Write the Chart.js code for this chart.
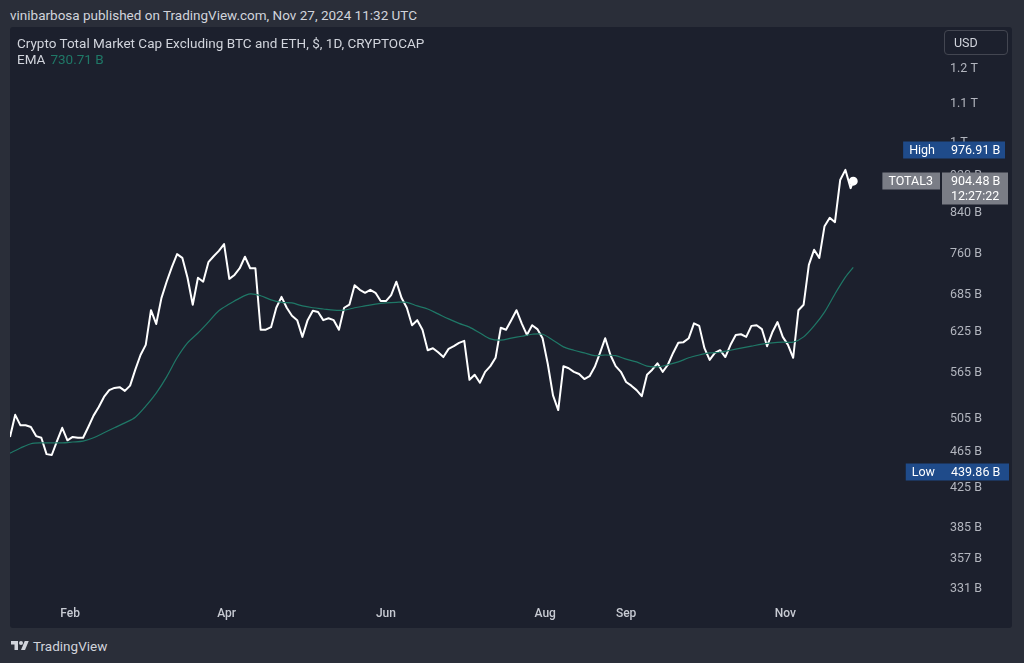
<!DOCTYPE html>
<html>
<head>
<meta charset="utf-8">
<script src="https://cdn.jsdelivr.net/npm/chart.js@4.4.1/dist/chart.umd.min.js"></script>
<style>
  html, body { margin: 0; padding: 0; }
  body {
    width: 1024px; height: 663px; overflow: hidden; position: relative;
    background: #2a2e39; color: #d1d4dc;
    font-family: Roboto, "Noto Sans", sans-serif;
  }
  #byline { position: absolute; left: 10px; top: 7px; font-size: 13.5px; line-height: 16px; }
  #panel {
    position: absolute; left: 10px; top: 27px; width: 1002px; height: 601px;
    background: #1c202d; border-radius: 3px;
  }
  #chart { position: absolute; left: 0; top: 0; }
  #legend { position: absolute; left: 7px; top: 8px; font-size: 13.5px; line-height: 16px; }
  #ema-val { color: #1f7867; margin-left: 5px; }
  #usd {
    position: absolute; left: 934px; top: 3px; width: 64px; height: 25px; box-sizing: border-box;
    border: 1px solid #434651; border-radius: 4px; font-size: 12.5px; line-height: 23px; padding-left: 9px;
  }
  #footer { position: absolute; left: 11px; top: 638px; font-size: 13.5px; line-height: 16px; display: flex; align-items: center; gap: 4px; }
</style>
</head>
<body>
<div id="byline">vinibarbosa published on TradingView.com, Nov 27, 2024 11:32 UTC</div>
<div id="panel">
  <canvas id="chart" width="1002" height="601"></canvas>
  <div id="legend">
    <div>Crypto Total Market Cap Excluding BTC and ETH, $, 1D, CRYPTOCAP</div>
    <div>EMA<span id="ema-val">730.71 B</span></div>
  </div>
  <div id="usd">USD</div>
</div>
<div id="footer">
  <svg width="18" height="14" viewBox="0 0 36 28"><path d="M14 22H7V11H0V4h14v18z" fill="#d1d4dc"/><circle cx="20" cy="8" r="4" fill="#d1d4dc"/><path d="M28 22h-8l7.5-18h8L28 22z" fill="#d1d4dc"/></svg>
  <span>TradingView</span>
</div>
<script>
// day index = days since Jan 1 2024; price every 2 days, EMA every 4 days (values in B)
const firstDay = 8;
const lastDay = 331;

const priceValues = [
  480, 507, 494, 494, 492, 481, 479, 460, 459, 475, 491, 476, 480, 479, 479, 492,
  506, 517, 530, 539, 542, 543, 538, 545, 567, 588, 603, 657, 635, 677, 705, 731,
  755, 748, 712, 666, 712, 705, 740, 751, 761, 774, 710, 717, 729, 750, 729, 729,
  626, 626, 630, 661, 679, 661, 648, 641, 615, 641, 656, 654, 641, 644, 641, 626,
  661, 666, 699, 691, 686, 691, 686, 672, 672, 682, 705, 677, 661, 633, 641, 626,
  595, 598, 592, 585, 597, 601, 606, 609, 553, 560, 549, 564, 572, 584, 629, 626,
  641, 657, 636, 618, 633, 627, 613, 575, 532, 513, 572, 569, 564, 561, 554, 558,
  571, 591, 613, 588, 572, 564, 550, 545, 539, 531, 560, 567, 576, 564, 574, 591,
  606, 607, 613, 636, 632, 598, 581, 591, 595, 585, 603, 618, 619, 615, 632, 633,
  627, 601, 622, 638, 615, 603, 584, 657, 666, 735, 763, 748, 809, 826, 817, 907,
  930, 889, 904.48
];

const emaValues = [
  461, 467, 472, 473, 473, 473, 474, 475, 479, 485, 491, 497, 504, 518, 535, 557,
  584, 606, 621, 638, 656, 667, 677, 684, 681, 674, 670, 669, 664, 661, 659, 657,
  657, 661, 664, 667, 669, 670, 670, 664, 659, 651, 643, 636, 630, 621, 612, 610,
  613, 616, 619, 619, 610, 600, 595, 591, 587, 588, 587, 582, 578, 572, 571, 574,
  578, 584, 588, 591, 592, 595, 598, 601, 604, 606, 607, 607, 615, 632, 654, 684,
  713, 730.71
];

const priceDays = priceValues.map((_, i) => Math.min(firstDay + 2 * i, lastDay));
const emaDays = emaValues.map((_, i) => Math.min(firstDay + 4 * i, lastDay));

const monthDays = [31, 91, 152, 213, 244, 305];
const monthLabels = ["Feb", "Apr", "Jun", "Aug", "Sep", "Nov"];

const yTicks = [331, 357, 385, 425, 465, 505, 565, 625, 685, 760, 840, 920, 1000, 1100, 1200];
const yTickLabels = ["331 B", "357 B", "385 B", "425 B", "465 B", "505 B", "565 B", "625 B",
  "685 B", "760 B", "840 B", "920 B", "1 T", "1.1 T", "1.2 T"];

const highValue = 976.91;
const lowValue = 439.86;
const symbol = "TOTAL3";
const countdown = "12:27:22";

const textColor = "#b2b5be";
const tagBlue = "#1f4b8a";
const tagGray = "#7a7d86";

const fmtB = (v) => v.toFixed(2) + " B";

// price tags on the right axis
const priceTags = {
  id: "priceTags",
  afterDatasetsDraw(chart) {
    const { ctx, chartArea, scales } = chart;
    const right = chartArea.right;
    ctx.save();
    ctx.font = "12.5px Roboto, sans-serif";
    ctx.textBaseline = "middle";
    ctx.textAlign = "left";

    const tag = (value, name, lines, color, gap, valueW) => {
      const yy = Math.round(scales.y.getPixelForValue(value));
      const h = 17;
      const nameW = ctx.measureText(name).width + 13;
      ctx.fillStyle = color;
      ctx.fillRect(right - gap - nameW, yy - 8.5, nameW, h);
      ctx.fillRect(right, yy - 8.5, valueW, h + (lines.length - 1) * 15);
      ctx.fillStyle = "#ffffff";
      ctx.fillText(name, right - gap - nameW + 6, yy + 0.5);
      lines.forEach((t, i) => ctx.fillText(t, right + 9, yy + 0.5 + i * 15));
    };

    tag(highValue, "High", [fmtB(highValue)], tagBlue, 0, 63);
    tag(lowValue, "Low", [fmtB(lowValue)], tagBlue, 0, 67);
    const last = priceValues[priceValues.length - 1];
    tag(last, symbol, [fmtB(last), countdown], tagGray, 2, 66);
    ctx.restore();
  },
};

const ctx = document.getElementById("chart").getContext("2d");

new Chart(ctx, {
  type: "line",
  data: {
    datasets: [
      {
        label: "EMA",
        data: emaDays.map((d, i) => ({ x: d, y: emaValues[i] })),
        borderColor: "#1f7867",
        borderWidth: 1.2,
        pointRadius: 0,
        tension: 0.3,
      },
      {
        label: symbol,
        data: priceDays.map((d, i) => ({ x: d, y: priceValues[i] })),
        borderColor: "#ffffff",
        borderWidth: 2,
        borderJoinStyle: "round",
        pointRadius: (c) => (c.dataIndex === priceValues.length - 1 ? 3.5 : 0),
        pointBackgroundColor: "#ffffff",
        pointBorderColor: "#ffffff",
        tension: 0,
      },
    ],
  },
  options: {
    responsive: false,
    animation: false,
    layout: { padding: 0, autoPadding: false },
    plugins: { legend: { display: false }, tooltip: { enabled: false } },
    scales: {
      x: {
        type: "linear",
        min: 8,
        max: 365,
        grid: { display: false, drawTicks: false },
        border: { display: false },
        afterBuildTicks(scale) {
          scale.ticks = monthDays.map((v) => ({ value: v }));
        },
        afterFit(scale) {
          scale.height = 28;
          scale.paddingLeft = 0;
          scale.paddingRight = 0;
        },
        ticks: {
          padding: 7,
          maxRotation: 0,
          autoSkip: false,
          color: "#c8cbd3",
          font: { family: "Roboto", size: 12, weight: "500" },
          callback: (v) => monthLabels[monthDays.indexOf(v)] || "",
        },
      },
      y: {
        type: "logarithmic",
        position: "right",
        min: 320.5,
        max: 1325,
        grid: { display: false, drawTicks: false },
        border: { display: false },
        afterBuildTicks(scale) {
          scale.ticks = yTicks.map((v) => ({ value: v }));
        },
        afterFit(scale) {
          scale.width = 70;
          scale.paddingTop = 0;
          scale.paddingBottom = 0;
        },
        ticks: {
          padding: 8,
          labelOffset: 2,
          color: textColor,
          font: { family: "Roboto", size: 12.5 },
          callback: (v) => yTickLabels[yTicks.indexOf(v)] || "",
        },
      },
    },
  },
  plugins: [priceTags],
});
</script>
</body>
</html>
